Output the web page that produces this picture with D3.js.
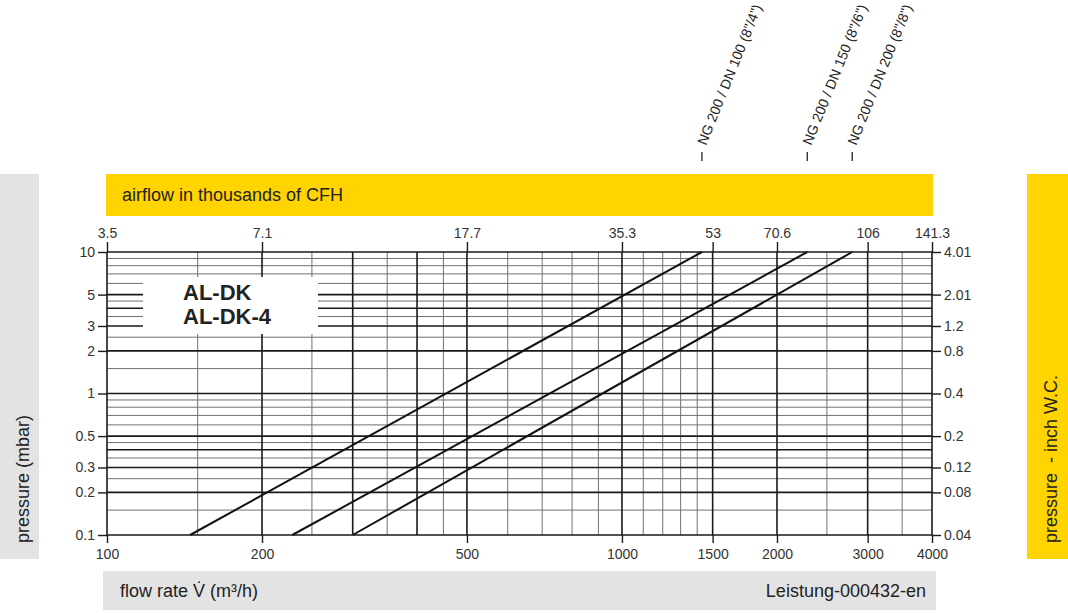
<!DOCTYPE html>
<html>
<head>
<meta charset="utf-8">
<script src="https://cdn.jsdelivr.net/npm/d3@7"></script>
<style>
  body { margin: 0; background: #fff; }
  svg { display: block; font-family: "Liberation Sans", Arial, sans-serif; }
</style>
</head>
<body>
<div id="chart"></div>
<script>
// Flow rate ticks (m3/h) and the matching airflow labels (thousands of CFH)
const flowTicks = [100, 200, 500, 1000, 1500, 2000, 3000, 4000];
const cfhLabels = ["3.5", "7.1", "17.7", "35.3", "53", "70.6", "106", "141.3"];

// Pressure ticks (mbar) and matching inch W.C. labels
const pressureTicks = [10, 5, 3, 2, 1, 0.5, 0.3, 0.2, 0.1];
const inchLabels = ["4.01", "2.01", "1.2", "0.8", "0.4", "0.2", "0.12", "0.08", "0.04"];

// Grid lines
const xGridMajor = [100, 200, 300, 400, 500, 1000, 1500, 2000, 3000, 4000];
const xGridMinor = [150, 250, 350, 450, 600, 700, 800, 900, 1100, 1200, 1300, 1400, 2500, 3500];
const yGridMajor = [0.1, 0.2, 0.3, 0.4, 0.5, 1, 2, 3, 4, 5, 10];
const yGridMinor = [0.15, 0.25, 0.35, 0.45, 0.6, 0.7, 0.8, 0.9, 1.5, 2.5, 3.5, 4.5, 6, 7, 8, 9];

// Characteristic curves: [flow, pressure] end points
const seriesNames = ["NG 200 / DN 100 (8\"/4\")", "NG 200 / DN 150 (8\"/6\")", "NG 200 / DN 200 (8\"/8\")"];
const dn100 = [[145, 0.1], [1430, 10]];
const dn150 = [[229, 0.1], [2290, 10]];
const dn200 = [[300, 0.1], [2800, 10]];
const seriesValues = [dn100, dn150, dn200];

const width = 1068;
const height = 613;
const yellow = "#ffd400";
const grey = "#e3e3e3";

const svg = d3.select("#chart")
  .append("svg")
  .attr("width", width)
  .attr("height", height);

const x = d3.scaleLog().domain([100, 4000]).range([107, 932]);
const y = d3.scaleLog().domain([0.1, 10]).range([535, 252]);

// Header / side bands
svg.append("rect").attr("x", 106).attr("y", 174).attr("width", 827).attr("height", 42).attr("fill", yellow);
svg.append("text").attr("x", 122).attr("y", 201).attr("font-size", 18).attr("fill", "#222")
  .text("airflow in thousands of CFH");

svg.append("rect").attr("x", 0).attr("y", 174).attr("width", 39).attr("height", 385).attr("fill", grey);
svg.append("text").attr("transform", "translate(29,543) rotate(-90)").attr("font-size", 18).attr("fill", "#222")
  .text("pressure (mbar)");

svg.append("rect").attr("x", 1027).attr("y", 174).attr("width", 41).attr("height", 385).attr("fill", yellow);
svg.append("text").attr("transform", "translate(1057,543) rotate(-90)").attr("font-size", 18).attr("fill", "#222")
  .text("pressure \u00a0- inch W.C.");

svg.append("rect").attr("x", 103).attr("y", 571).attr("width", 833).attr("height", 39).attr("fill", grey);
svg.append("text").attr("x", 120).attr("y", 597).attr("font-size", 18).attr("fill", "#222")
  .text("flow rate V\u0307 (m\u00b3/h)");
svg.append("text").attr("x", 926).attr("y", 597).attr("font-size", 18).attr("fill", "#222")
  .attr("text-anchor", "end").text("Leistung-000432-en");

// Grid
const grid = svg.append("g");
const [y0, y1] = y.range();
const [x0, x1] = x.range();

grid.selectAll(".vminor").data(xGridMinor).enter().append("line")
  .attr("x1", d => x(d)).attr("x2", d => x(d)).attr("y1", y1).attr("y2", y0)
  .attr("stroke", "#707070").attr("stroke-width", 1);
grid.selectAll(".hminor").data(yGridMinor).enter().append("line")
  .attr("x1", x0).attr("x2", x1).attr("y1", d => y(d)).attr("y2", d => y(d))
  .attr("stroke", "#707070").attr("stroke-width", 1);
grid.selectAll(".vmajor").data(xGridMajor).enter().append("line")
  .attr("x1", d => x(d)).attr("x2", d => x(d)).attr("y1", y1).attr("y2", y0)
  .attr("stroke", "#1a1a1a").attr("stroke-width", 1.6);
grid.selectAll(".hmajor").data(yGridMajor).enter().append("line")
  .attr("x1", x0).attr("x2", x1).attr("y1", d => y(d)).attr("y2", d => y(d))
  .attr("stroke", "#1a1a1a").attr("stroke-width", 1.6);

// Product label box
svg.append("rect").attr("x", 143).attr("y", 277).attr("width", 175).attr("height", 57).attr("fill", "#fff");
svg.append("text").attr("x", 183).attr("y", 300).attr("font-size", 22).attr("font-weight", "bold")
  .attr("fill", "#222").text("AL-DK");
svg.append("text").attr("x", 183).attr("y", 324).attr("font-size", 22).attr("font-weight", "bold")
  .attr("fill", "#222").text("AL-DK-4");

// Axes
const styleAxis = g => {
  g.select(".domain").remove();
  g.selectAll(".tick line").attr("stroke", "#1a1a1a").attr("stroke-width", 1.4);
  g.selectAll(".tick text").attr("fill", "#333").attr("font-size", 14)
    .attr("font-family", "'Liberation Sans', Arial, sans-serif");
};

svg.append("g").attr("transform", `translate(0,${y0})`)
  .call(d3.axisBottom(x).tickValues(flowTicks).tickFormat(d3.format("d")).tickSize(8).tickPadding(6))
  .call(styleAxis);

svg.append("g").attr("transform", `translate(0,${y1})`)
  .call(d3.axisTop(x).tickValues(flowTicks).tickFormat((d, i) => cfhLabels[i]).tickSize(10).tickPadding(4))
  .call(styleAxis);

svg.append("g").attr("transform", `translate(${x0},0)`)
  .call(d3.axisLeft(y).tickValues(pressureTicks).tickFormat(d3.format("~g")).tickSize(9).tickPadding(3))
  .call(styleAxis);

svg.append("g").attr("transform", `translate(${x1},0)`)
  .call(d3.axisRight(y).tickValues(pressureTicks).tickFormat((d, i) => inchLabels[i]).tickSize(9).tickPadding(3))
  .call(styleAxis);

// Curves
const line = d3.line().x(d => x(d[0])).y(d => y(d[1]));
svg.selectAll(".curve").data(seriesValues).enter().append("path")
  .attr("d", line)
  .attr("fill", "none")
  .attr("stroke", "#111")
  .attr("stroke-width", 2);

// Curve labels above the header
const labels = svg.selectAll(".curve-label").data(seriesValues).enter().append("g")
  .attr("transform", d => `translate(${x(d[d.length - 1][0])},0)`);
labels.append("line").attr("y1", 152).attr("y2", 161).attr("stroke", "#222").attr("stroke-width", 1.3);
labels.append("text")
  .attr("transform", "translate(4,146) rotate(-68)")
  .attr("font-size", 14)
  .attr("fill", "#222")
  .text((d, i) => seriesNames[i]);
</script>
</body>
</html>
